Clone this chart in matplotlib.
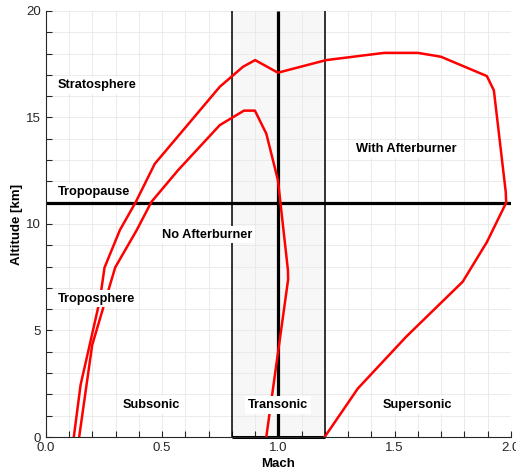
import numpy as np
import matplotlib.pyplot as plt
from matplotlib.ticker import MultipleLocator

plt.rcParams['font.family'] = ['Liberation Sans', 'DejaVu Sans']

# flight envelope, with afterburner (Mach, altitude km)
ab_mach = [0.120, 0.149, 0.232, 0.252, 0.318, 0.387, 0.468, 0.748, 0.848, 0.900,
           0.998, 1.205, 1.455, 1.600, 1.699, 1.897, 1.927, 1.978, 1.980,
           1.897, 1.793, 1.550, 1.342, 1.199]
ab_alt = [0.0, 2.44, 6.43, 7.95, 9.71, 11.04, 12.82, 16.44, 17.38, 17.69,
          17.10, 17.69, 18.03, 18.03, 17.85, 16.94, 16.27, 11.51, 11.00,
          9.15, 7.29, 4.71, 2.28, 0.0]

# flight envelope, no afterburner
dry_mach = [0.143, 0.199, 0.298, 0.390, 0.454, 0.569, 0.748, 0.852, 0.899,
            0.948, 0.998, 1.041, 1.042, 0.948]
dry_alt = [0.0, 4.32, 7.96, 9.70, 11.04, 12.53, 14.64, 15.32, 15.32,
           14.24, 12.06, 7.84, 7.40, 0.0]

tropopause = 11.0
transonic = (0.8, 1.2)

fig, ax = plt.subplots(figsize=(5.16, 4.74), dpi=100)
fig.subplots_adjust(left=0.089, right=0.99, bottom=0.078, top=0.977)

ax.axvspan(*transonic, color='#f7f7f7', zorder=0.2, lw=0)
ax.vlines(transonic, 0, 20, color='black', lw=1.1, zorder=2)
ax.hlines(0, *transonic, color='black', lw=2.2, zorder=2, clip_on=False)
ax.vlines(1.0, 0, 20, color='black', lw=2.3, zorder=2)
ax.axhline(tropopause, color='black', lw=2.3, zorder=2)

ax.plot(ab_mach, ab_alt, color='red', lw=1.8, zorder=3)
ax.plot(dry_mach, dry_alt, color='red', lw=1.8, zorder=3)

box = dict(facecolor='white', edgecolor='none', pad=2)
lab = dict(fontsize=9.2, fontweight='bold', zorder=4, bbox=box, va='center')
ax.text(0.05, 16.5, 'Stratosphere', ha='left', **lab)
ax.text(0.05, 11.5, 'Tropopause', ha='left', **lab)
ax.text(0.05, 6.5, 'Troposphere', ha='left', **lab)
ax.text(0.5, 9.5, 'No Afterburner', ha='left', **lab)
ax.text(1.55, 13.5, 'With Afterburner', ha='center', **lab)
ax.text(0.455, 1.5, 'Subsonic', ha='center', **lab)
ax.text(1.0, 1.5, 'Transonic', ha='center', **lab)
ax.text(1.6, 1.5, 'Supersonic', ha='center', **lab)

ax.set_xlim(0, 2)
ax.set_ylim(0, 20)
ax.xaxis.set_major_locator(MultipleLocator(0.5))
ax.xaxis.set_minor_locator(MultipleLocator(0.1))
ax.yaxis.set_major_locator(MultipleLocator(5))
ax.yaxis.set_minor_locator(MultipleLocator(1))
ax.set_xticks(np.arange(0, 2.01, 0.5))
ax.set_xticklabels(['0.0', '0.5', '1.0', '1.5', '2.0'])
ax.tick_params(which='both', direction='in', length=4, width=0.8,
               labelsize=9.5, labelcolor='#262626', color='#262626')
ax.grid(which='both', color='#e8e8e8', lw=0.6)
ax.set_axisbelow(True)
for side in ['top', 'right']:
    ax.spines[side].set_visible(False)
for side in ['left', 'bottom']:
    ax.spines[side].set_color('#262626')

ax.set_xlabel('Mach', fontsize=9.5, fontweight='bold', labelpad=3)
ax.set_ylabel('Altitude [km]', fontsize=9.5, fontweight='bold', labelpad=2)

fig.savefig('out.png')
